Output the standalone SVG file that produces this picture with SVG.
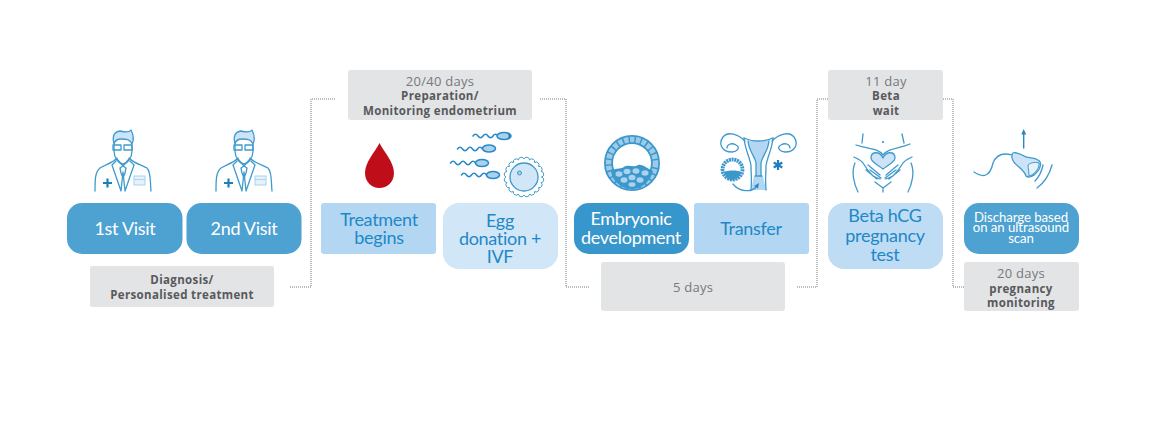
<svg xmlns="http://www.w3.org/2000/svg" width="1172" height="421" viewBox="0 0 1172 421">
<style>
text{font-family:"Lato","Liberation Sans",sans-serif;text-anchor:middle}
.w{fill:#fff;font-size:18px;letter-spacing:-.3px}
.b{fill:#1e88c7;font-size:18px;letter-spacing:-.3px}
.s{fill:#fff;font-size:13.2px;letter-spacing:-.05px}
.g{fill:#77787b;font-size:13px;letter-spacing:.25px;font-family:"Open Sans","Liberation Sans",sans-serif}
.k{fill:#58595b;font-size:11.5px;font-weight:700;letter-spacing:.35px;font-family:"Open Sans","Liberation Sans",sans-serif}
.grey{fill:#e3e4e6}
.ln{fill:none;stroke:#3f9acd;stroke-width:1.3;stroke-linecap:round;stroke-linejoin:round}
.tail{fill:none;stroke:#2b8ac6;stroke-width:1.6;stroke-linecap:round}
.dk{fill:none;stroke:#2b85bf;stroke-width:1.4;stroke-linecap:round;stroke-linejoin:round}
.lt{fill:#cde4f6;stroke:#3f9acd;stroke-width:1.3;stroke-linejoin:round}
.dot{fill:none;stroke:#77787b;stroke-width:1;stroke-dasharray:1 1}
.sph{fill:#a9d2ee;stroke:#2b8ac6;stroke-width:1.6}
</style>
<defs>
<g id="doctor">
<path class="lt" d="M114 144C112 136 114 132 120 131C124 132 129 133 131 130C133 134 134 140 132 144C130 139 126 139 121 139C118 139 115 140 114 144Z"/>
<path class="ln" d="M114 145V151C114 158 119 164 123 164C127 164 132 158 132 151V145"/>
<rect class="ln" x="113" y="145" width="8" height="5"/><rect class="ln" x="124" y="145" width="8" height="5"/>
<path class="ln" d="M95 191C95 180 95 172 100 168C104 165 113 163 117 158M129 158C133 163 142 165 147 168C151 172 150 180 151 191"/>
<path class="ln" d="M117 159L123 166L129 159M116 161L112 165L121 191L123 172L125 191L134 165L130 161M120 168L123 166L126 168L125 173L123 178L121 173Z"/>
<path d="M103 183H112M107.500 178.500V187.500" fill="none" stroke="#1f7fbd" stroke-width="2.200"/>
<rect x="134" y="176" width="11" height="9" fill="#e6f1fa" stroke="#a9d2ee"/>
<path d="M134 179.500H145" stroke="#a9d2ee"/>
</g>
<path id="sperm" class="tail" d="M0 0q2.500-3.500 5 0t5 0t5 0t5 0t5 0"/>
</defs>
<g id="connectors">
<path class="dot" d="M290 287H311V99H335"/>
<path class="dot" d="M540 99H566V287H590"/>
<path class="dot" d="M797 287H817V99H828"/>
<path class="dot" d="M943 99H953V287H964"/>
</g>
<g id="visit1">
<use href="#doctor"/>
<rect x="67" y="203" width="115.500" height="51" rx="15" fill="#4ea2d1"/>
<text class="w" x="125" y="235">1st Visit</text>
</g>
<g id="visit2">
<use href="#doctor" x="121"/>
<rect x="186.500" y="203" width="115" height="51" rx="15" fill="#4ea2d1"/>
<text class="w" x="244" y="235">2nd Visit</text>
</g>
<g id="diagnosis">
<rect class="grey" x="90" y="266" width="184" height="41" rx="2"/>
<text class="k"><tspan x="182" y="284">Diagnosis/</tspan><tspan x="182" y="299">Personalised treatment</tspan></text>
</g>
<g id="preparation">
<rect class="grey" x="348" y="70" width="184" height="50" rx="3"/>
<text class="g" x="440" y="86">20/40 days</text>
<text class="k"><tspan x="440" y="100">Preparation/</tspan><tspan x="440" y="115">Monitoring endometrium</tspan></text>
</g>
<g id="treatment">
<path d="M379.500 143C375 152 365 162 365 173C365 182 372 188 379.500 188C387 188 394 182 394 173C394 162 384 152 379.500 143Z" fill="#c00d1a"/>
<rect x="321" y="203" width="115" height="51" rx="3" fill="#b3d7f2"/>
<text class="b"><tspan x="379" y="226">Treatment</tspan><tspan x="379" y="244">begins</tspan></text>
</g>
<g id="egg">
<use href="#sperm" x="473" y="136"/><use href="#sperm" x="457.500" y="149"/><use href="#sperm" x="450.500" y="163"/><use href="#sperm" x="461.500" y="175"/>
<ellipse class="sph" cx="504" cy="136" rx="7" ry="3.500"/><path d="M507 132.500C512 133 512 139 507 139.500C509 137 509 135 507 132.500Z" fill="#2b85bf"/>
<ellipse class="sph" cx="489" cy="148.500" rx="6.500" ry="3.500"/>
<ellipse class="sph" cx="482" cy="163" rx="6.500" ry="3.500"/>
<ellipse class="sph" cx="493" cy="175" rx="6.500" ry="3.500"/>
<path class="ln" transform="translate(524 177)" d="M18 0A2.900 2.900 0 0 1 17.120 5.560A2.900 2.900 0 0 1 14.560 10.580A2.900 2.900 0 0 1 10.580 14.560A2.900 2.900 0 0 1 5.560 17.120A2.900 2.900 0 0 1 0 18A2.900 2.900 0 0 1-5.560 17.120A2.900 2.900 0 0 1-10.580 14.560A2.900 2.900 0 0 1-14.560 10.580A2.900 2.900 0 0 1-17.120 5.560A2.900 2.900 0 0 1-18 0A2.900 2.900 0 0 1-17.120-5.560A2.900 2.900 0 0 1-14.560-10.580A2.900 2.900 0 0 1-10.580-14.560A2.900 2.900 0 0 1-5.560-17.120A2.900 2.900 0 0 1 0-18A2.900 2.900 0 0 1 5.560-17.120A2.900 2.900 0 0 1 10.580-14.560A2.900 2.900 0 0 1 14.560-10.580A2.900 2.900 0 0 1 17.120-5.560A2.900 2.900 0 0 1 18 0Z" style="stroke-width:1"/>
<circle cx="524" cy="177" r="14" fill="#d1e6f7" stroke="#3c97cb" stroke-width="1.300"/>
<circle cx="519.500" cy="173" r="2" fill="#a9d2ee" stroke="#3c97cb"/>
<rect x="443" y="203" width="115" height="66" rx="16" fill="#d1e6f7"/>
<text class="b"><tspan x="500" y="227">Egg</tspan><tspan x="500" y="245">donation +</tspan><tspan x="500" y="263">IVF</tspan></text>
</g>
<g id="embryonic">
<circle cx="632" cy="163" r="23.500" fill="none" stroke="#3c97cb" stroke-width="9"/>
<circle cx="632" cy="163" r="23.500" fill="none" stroke="#9ccbea" stroke-width="5.500" stroke-dasharray="4.500 1.500"/>
<path d="M611 172C614 167 620 170 624 167C628 164 634 168 638 165C643 164 648 169 653 171C650 183 640 189 632 189C622 189 613 182 611 172Z" fill="#3c97cb"/>
<g fill="#a9d2ee">
<ellipse cx="619" cy="174" rx="3.500" ry="2.800"/><ellipse cx="627" cy="171.500" rx="3.500" ry="2.800"/><ellipse cx="636" cy="171" rx="3.500" ry="2.800"/><ellipse cx="645" cy="173" rx="3.500" ry="2.800"/>
<ellipse cx="624" cy="180" rx="3.500" ry="2.800"/><ellipse cx="632" cy="177.500" rx="3.500" ry="2.800"/><ellipse cx="640" cy="180" rx="3.500" ry="2.800"/><ellipse cx="632" cy="184.500" rx="3.500" ry="2.300"/>
</g>
<rect x="574" y="203" width="115" height="51" rx="15" fill="#3797cc"/>
<text class="w"><tspan x="631" y="225">Embryonic</tspan><tspan x="631" y="244">development</tspan></text>
</g>
<g id="transfer">
<path d="M748 141H769C768 152 762 156 761 163V176H763L766 190H751L754 176H756V163C755 156 749 152 748 141Z" fill="#b3d7f2"/>
<path class="ln" d="M744 138C745 150 750 157 751 166C751 174 752 178 751 190M773 138C772 150 767 157 766 166C766 174 765 178 766 190"/>
<path class="ln" d="M744 138C752 142 765 142 773 138M748 141C749 152 755 156 756 163V176M769 141C768 152 762 156 761 163V176M755 176H762"/>
<path class="ln" d="M745 141C738 134 728 131 723 137C718 144 722 152 732 152C737 152 741 147 736 145C731 142 727 145 727 148M772 141C779 134 789 131 794 137C799 144 795 152 785 152C780 152 776 147 781 145C786 142 790 145 790 148"/>
<circle cx="732.500" cy="169.500" r="10" fill="none" stroke="#3c97cb" stroke-width="3.800" stroke-dasharray="2 .7"/>
<path d="M724 172C728 170 738 170 741 172C740 178 735 180 732 180C729 180 726 178 724 172Z" fill="#3c97cb"/>
<path class="ln" d="M733 184C739 192 752 193 757 186"/>
<path d="M759 183L758 188.500L754 186Z" fill="#2b85bf"/>
<path d="M778 160V170M773.700 162.500L782.300 167.500M782.300 162.500L773.700 167.500" fill="none" stroke="#1f7fbd" stroke-width="2.200"/>
<rect x="694" y="203" width="115" height="51" rx="3" fill="#b3d7f2"/>
<text class="b" x="751" y="235">Transfer</text>
</g>
<g id="fivedays">
<rect class="grey" x="601" y="262" width="184" height="49" rx="3"/>
<text class="g" x="693" y="292">5 days</text>
</g>
<g id="betawait">
<rect class="grey" x="828" y="70" width="115" height="50" rx="3"/>
<text class="g" x="886" y="86">11 day</text>
<text class="k"><tspan x="886" y="100">Beta</tspan><tspan x="886" y="115">wait</tspan></text>
</g>
<g id="betatest">
<path class="lt" d="M883 158C880 151 871 151 871 158C871 162 878 165 883 169C888 165 895 162 895 158C895 151 886 151 883 158Z"/>
<path class="ln" d="M863 134L862 143M902 134L904 143M856 145C868 149 878 148 883 155C888 148 898 149 910 144"/>
<circle cx="883" cy="142" r="1" fill="#2b85bf"/>
<path class="ln" d="M854 157C858 159 861 160 863 163C866 168 869 172 873 176L880 179M912 157C908 159 905 160 903 163C900 168 897 172 893 176L886 179M868 165L880 175M870 170L881 178M866 170L877 179M898 165L886 175M896 170L885 178M900 170L889 179"/>
<path class="ln" d="M855 163C851 172 854 184 858 192M911 163C915 172 912 184 908 192M875 182L883 188L891 182M883 188V192"/>
<rect x="828" y="203" width="115" height="66" rx="16" fill="#bfdcf5"/>
<text class="b"><tspan x="885" y="222">Beta hCG</tspan><tspan x="885" y="242">pregnancy</tspan><tspan x="885" y="261">test</tspan></text>
</g>
<g id="discharge">
<path class="dk" d="M1023.700 148V133"/><path d="M1023.700 129L1026.200 134.500H1021.200Z" fill="#2b85bf"/>
<path class="ln" d="M974 172C983 178 990 177 993 163C997 153 1005 153 1012 155"/>
<path class="lt" d="M1012 155C1012 151 1018 153 1022 155C1028 159 1033 157 1038 160C1042 162 1041 168 1037 172C1033 177 1028 178 1026 176C1025 172 1022 170 1019 167C1015 164 1011 160 1012 155Z"/>
<path d="M1028 165C1031 162 1037 162 1039 163C1040 168 1034 175 1029 176C1029 172 1028 168 1028 165Z" fill="#e6f1fa" stroke="#3f9acd"/>
<path class="ln" d="M1035 181Q1041 175 1043 165M1037 188Q1048 180 1052 165"/>
<rect x="964" y="203" width="115" height="51" rx="15" fill="#4ea2d1"/>
<text class="s"><tspan x="1021" y="222">Discharge based</tspan><tspan x="1021" y="232">on an ultrasound</tspan><tspan x="1021" y="243">scan</tspan></text>
</g>
<g id="monitoring">
<rect class="grey" x="964" y="262" width="115" height="49" rx="3"/>
<text class="g" x="1021" y="278">20 days</text>
<text class="k"><tspan x="1021" y="293">pregnancy</tspan><tspan x="1021" y="307">monitoring</tspan></text>
</g>
</svg>
